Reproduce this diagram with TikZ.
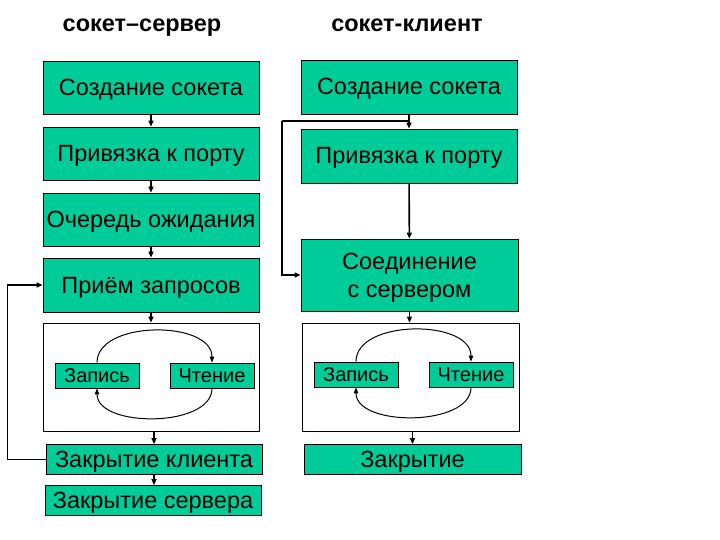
\documentclass[tikz,border=0pt]{standalone}
\usepackage{fontspec}
\setmainfont{Liberation Sans}
\usetikzlibrary{arrows.meta}
\definecolor{boxgreen}{RGB}{0,204,153}
\begin{document}
\begin{tikzpicture}[x=1pt,y=-1pt,
  gbox/.style={draw=black,line width=0.8pt,fill=boxgreen,inner sep=0pt,
    font=\fontsize{23.5}{28}\selectfont,align=center,text height=16pt,text depth=0pt},
  wbox/.style={draw=black,line width=0.8pt,fill=white,inner sep=0pt},
  sbox/.style={draw=black,line width=0.8pt,fill=boxgreen,inner sep=0pt,
    minimum width=84pt,minimum height=25pt,font=\fontsize{20}{24}\selectfont,
    text height=14.5pt,text depth=0pt},
  ttl/.style={font=\bfseries\fontsize{23.5}{28}\selectfont,inner sep=0pt,anchor=base},
  conn/.style={line width=1.6pt,-{Triangle[length=6pt,width=5pt]}},
  cyc/.style={line width=1pt,-{Triangle[length=6pt,width=4.5pt]}}]
\useasboundingbox (0,0) rectangle (720,540);
% titles
\node[ttl] (t1) at (142,32) {сокет–сервер};
\node[ttl] (t2) at (407,32) {сокет-клиент};
% server column
\node[gbox,minimum width=216pt,minimum height=53pt] (L1) at (151,88) {Создание сокета};
\node[gbox,minimum width=216pt,minimum height=53pt] (L2) at (151,153.5) {Привязка к порту};
\node[gbox,minimum width=216pt,minimum height=53pt] (L3) at (151,219.5) {Очередь ожидания};
\node[gbox,minimum width=216pt,minimum height=54pt] (L4) at (151,285) {Приём запросов};
\node[wbox,minimum width=216pt,minimum height=108pt] (L5) at (151,377) {};
\node[sbox] (zL) at (97,375.5) {Запись};
\node[sbox] (cL) at (212,375.5) {Чтение};
\node[gbox,minimum width=216pt,minimum height=30pt] (L6) at (154,459.5) {Закрытие клиента};
\node[gbox,minimum width=216pt,minimum height=30pt] (L7) at (153,500.5) {Закрытие сервера};
% client column
\node[gbox,minimum width=216pt,minimum height=54pt] (R1) at (409,87) {Создание сокета};
\node[gbox,minimum width=216pt,minimum height=54pt] (R2) at (409,156) {Привязка к порту};
\node[gbox,minimum width=217pt,minimum height=72pt,text height=44pt,text depth=0pt] (R3) at (409.5,275) {Соединение\\с сервером};
\node[wbox,minimum width=217pt,minimum height=108pt] (R4) at (410.5,377) {};
\node[sbox] (zR) at (356,374.5) {Запись};
\node[sbox] (cR) at (471,374.5) {Чтение};
\node[gbox,minimum width=217pt,minimum height=30pt] (R5) at (412.5,459.5) {Закрытие};
% server connectors
\draw[conn] (L1) -- (L2);
\draw[conn] (L2) -- (L3);
\draw[conn] (L3) -- (L4);
\draw[conn] (L4) -- (L4 |- L5.north);
\draw[conn] (L5.south -| L6) -- (L6);
\draw[conn] (L6) -- (L6.south |- L7.north);
\draw[conn] (L6.west) -- ++(-38,0) |- (L4.west);
% client connectors
\draw[conn] (R1) -- (R2);
\draw[conn] (R2) -- (R3);
\draw[conn] (R3) -- (R3 |- R4.north);
\draw[conn] (R4.south -| R5) -- (R5);
\coordinate (jR) at (409,121);
\draw[line width=1.6pt] (jR) -- (282,121);
\draw[conn] (282,121) |- (R3.west);
% read/write cycles
\draw[cyc] (zL.north) .. controls (97,320) and (212,320) .. (cL.north);
\draw[cyc] (cL.south) .. controls (212,428) and (97,428) .. (zL.south);
\draw[cyc] (zR.north) .. controls (356,319) and (471,319) .. (cR.north);
\draw[cyc] (cR.south) .. controls (471,427) and (356,427) .. (zR.south);
\end{tikzpicture}
\end{document}
